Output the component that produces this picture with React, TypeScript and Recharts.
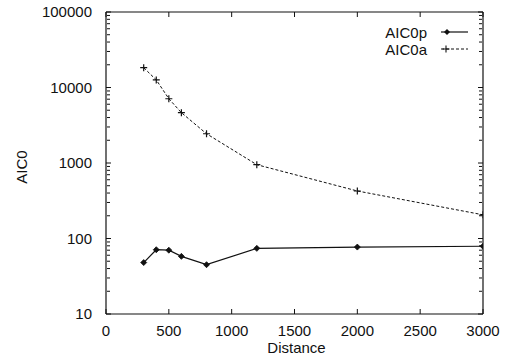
import React from 'react';
import { LineChart, Line, XAxis, YAxis, Legend } from 'recharts';

const distances = [300, 400, 500, 600, 800, 1200, 2000, 3000];
const aic0p = [48, 71, 70, 58, 45, 74, 77, 79];
const aic0a = [18300, 12600, 7100, 4640, 2440, 950, 426, 206];

const xTicks = [0, 500, 1000, 1500, 2000, 2500, 3000];
const yTicks = [10, 100, 1000, 10000, 100000];
const yMinorTicks = [
  20, 30, 40, 50, 60, 70, 80, 90,
  200, 300, 400, 500, 600, 700, 800, 900,
  2000, 3000, 4000, 5000, 6000, 7000, 8000, 9000,
  20000, 30000, 40000, 50000, 60000, 70000, 80000, 90000,
];

const data = distances.map((d, i) => ({ d, p: aic0p[i], a: aic0a[i] }));

const FONT = 'Liberation Sans, Arial, Helvetica, sans-serif';
const INK = '#111';

const Diamond = (props: any) => {
  const { cx, cy, key } = props;
  if (cx == null || cy == null) return <g key={key} />;
  const r = 3;
  return (
    <path
      key={key}
      d={`M${cx},${cy - r}L${cx + r},${cy}L${cx},${cy + r}L${cx - r},${cy}Z`}
      fill={INK}
      stroke={INK}
      strokeWidth={0.8}
    />
  );
};

const Plus = (props: any) => {
  const { cx, cy, key } = props;
  if (cx == null || cy == null) return <g key={key} />;
  const r = 3.5;
  return (
    <path
      key={key}
      d={`M${cx - r},${cy}L${cx + r},${cy}M${cx},${cy - r}L${cx},${cy + r}`}
      stroke={INK}
      strokeWidth={1.2}
      fill="none"
    />
  );
};

const EmptyTick = () => <g />;

const LegendContent = () => (
  <svg width={512} height={70} style={{ position: 'absolute', left: 0, top: 0 }}>
    <text x={427} y={32} textAnchor="end" dominantBaseline="central" fontFamily={FONT} fontSize={15} fill={INK}>
      AIC0p
    </text>
    <line x1={441} x2={468} y1={32} y2={32} stroke={INK} strokeWidth={1.2} />
    <path d="M447,29L450,32L447,35L444,32Z" fill={INK} />
    <text x={427} y={49} textAnchor="end" dominantBaseline="central" fontFamily={FONT} fontSize={15} fill={INK}>
      AIC0a
    </text>
    <line x1={441} x2={468} y1={49} y2={49} stroke={INK} strokeWidth={1} strokeDasharray="3 2" />
    <path d="M442.5,49L449.5,49M446,45.5L446,52.5" stroke={INK} strokeWidth={1.1} />
  </svg>
);

const tickStyle = { fontFamily: FONT, fontSize: 15, fill: INK };

const logY = { scale: 'log' as const, domain: [10, 100000], allowDataOverflow: true };
const linX = { dataKey: 'd', type: 'number' as const, domain: [0, 3000], ticks: xTicks, allowDataOverflow: true };

export default function App() {
  return (
    <div style={{ position: 'absolute', left: 0, top: 0 }}>
      <LineChart width={512} height={359} data={data} margin={{ top: 12, right: 29, bottom: 0, left: 0 }}>
        <XAxis
          xAxisId="x"
          {...linX}
          height={45}
          tickSize={0}
          tickMargin={11}
          tickLine={false}
          axisLine={{ stroke: INK, strokeWidth: 1.2 }}
          tick={tickStyle}
          label={{
            content: (p: any) => {
              const vb = p.viewBox || { x: 106, width: 377, y: 314 };
              return (
                <text x={vb.x + vb.width / 2 + 2} y={353} textAnchor="middle" fontFamily={FONT} fontSize={15} fill={INK}>
                  Distance
                </text>
              );
            },
          }}
        />
        <XAxis
          xAxisId="xb"
          {...linX}
          orientation="bottom"
          mirror
          height={1}
          tick={EmptyTick}
          tickSize={5}
          tickLine={{ stroke: INK, strokeWidth: 1 }}
          axisLine={false}
        />
        <XAxis
          xAxisId="xt"
          {...linX}
          orientation="top"
          mirror
          height={1}
          tick={EmptyTick}
          tickSize={5}
          tickLine={{ stroke: INK, strokeWidth: 1 }}
          axisLine={{ stroke: INK, strokeWidth: 1.2 }}
        />
        <YAxis
          yAxisId="y"
          {...logY}
          ticks={yTicks}
          width={106}
          tickSize={0}
          tickMargin={14}
          tickLine={false}
          axisLine={{ stroke: INK, strokeWidth: 1.2 }}
          tick={tickStyle}
          label={{
            content: (p: any) => {
              const vb = p.viewBox || { y: 12, height: 302 };
              const cy = vb.y + vb.height / 2 + 4;
              return (
                <text
                  x={21.5}
                  y={cy}
                  transform={`rotate(-90, 21.5, ${cy})`}
                  textAnchor="middle"
                  dominantBaseline="central"
                  fontFamily={FONT}
                  fontSize={15}
                  fill={INK}
                >
                  AIC0
                </text>
              );
            },
          }}
        />
        <YAxis
          yAxisId="ylmaj"
          orientation="left"
          mirror
          {...logY}
          ticks={yTicks}
          width={1}
          tick={EmptyTick}
          tickSize={5}
          tickLine={{ stroke: INK, strokeWidth: 1 }}
          axisLine={false}
        />
        <YAxis
          yAxisId="ylmin"
          orientation="left"
          mirror
          {...logY}
          ticks={yMinorTicks}
          interval={0}
          width={1}
          tick={EmptyTick}
          tickSize={3}
          tickLine={{ stroke: INK, strokeWidth: 1 }}
          axisLine={false}
        />
        <YAxis
          yAxisId="yrmaj"
          orientation="right"
          mirror
          {...logY}
          ticks={yTicks}
          width={1}
          tick={EmptyTick}
          tickSize={5}
          tickLine={{ stroke: INK, strokeWidth: 1 }}
          axisLine={{ stroke: INK, strokeWidth: 1.2 }}
        />
        <YAxis
          yAxisId="yrmin"
          orientation="right"
          mirror
          {...logY}
          ticks={yMinorTicks}
          interval={0}
          width={1}
          tick={EmptyTick}
          tickSize={3}
          tickLine={{ stroke: INK, strokeWidth: 1 }}
          axisLine={false}
        />
        <Legend
          layout="vertical"
          align="center"
          verticalAlign="middle"
          wrapperStyle={{ position: 'absolute', left: 0, top: 0, width: 512, height: 70 }}
          content={LegendContent}
        />
        {/* invisible carriers so the frame axes are laid out */}
        <Line xAxisId="xb" yAxisId="ylmaj" dataKey="p" stroke="none" dot={false} legendType="none" isAnimationActive={false} />
        <Line xAxisId="xb" yAxisId="ylmin" dataKey="p" stroke="none" dot={false} legendType="none" isAnimationActive={false} />
        <Line xAxisId="xt" yAxisId="yrmaj" dataKey="p" stroke="none" dot={false} legendType="none" isAnimationActive={false} />
        <Line xAxisId="xt" yAxisId="yrmin" dataKey="p" stroke="none" dot={false} legendType="none" isAnimationActive={false} />
        <Line
          xAxisId="x"
          yAxisId="y"
          dataKey="p"
          name="AIC0p"
          stroke={INK}
          strokeWidth={1.2}
          dot={Diamond}
          isAnimationActive={false}
        />
        <Line
          xAxisId="x"
          yAxisId="y"
          dataKey="a"
          name="AIC0a"
          stroke={INK}
          strokeWidth={1}
          strokeDasharray="3 2"
          dot={Plus}
          isAnimationActive={false}
        />
      </LineChart>
    </div>
  );
}
